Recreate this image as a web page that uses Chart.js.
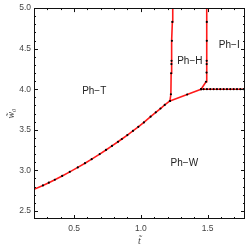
<!DOCTYPE html>
<html>
<head>
<meta charset="utf-8">
<script src="https://cdn.jsdelivr.net/npm/chart.js@4/dist/chart.umd.min.js"></script>
<style>
html,body{margin:0;padding:0;background:#fff;}
</style>
</head>
<body>
<canvas id="pdCanvas" width="249" height="251"></canvas>
<script>
// 軸の範囲と目盛ラベル
var xMin = 0.2, xMax = 1.78;
var yMin = 2.4, yMax = 5.0;
var xTickVals = [0.5, 1.0, 1.5];
var yTickVals = [2.5, 3.0, 3.5, 4.0, 4.5, 5.0];

// 相境界 Ph-T / Ph-W
var twX = [0.2,0.267,0.311,0.356,0.411,0.468,0.528,0.582,0.632,0.692,0.739,0.784,0.829,0.858,0.899,0.941,0.981,1.023,1.073,1.112,1.147,1.179,1.218];
var twY = [2.765,2.814,2.848,2.884,2.931,2.981,3.036,3.088,3.138,3.200,3.251,3.301,3.352,3.386,3.435,3.486,3.536,3.590,3.662,3.715,3.762,3.806,3.855];
// 相境界 Ph-H / Ph-W
var hwX = [1.218,1.347,1.451];
var hwY = [3.855,3.935,4.0];
// 相境界 Ph-T / Ph-H
var thX = [1.218,1.225,1.227,1.229,1.230,1.233,1.236,1.239];
var thY = [3.855,3.938,4.197,4.31,4.35,4.597,4.83,5.0];
// 相境界 Ph-H / Ph-I
var hiX = [1.451,1.488,1.492,1.493,1.493,1.494,1.494,1.495];
var hiY = [4.0,4.092,4.205,4.31,4.35,4.597,4.83,5.0];
// 相境界 Ph-I / Ph-W
var iwX = [1.451,1.47,1.495,1.52,1.545,1.57,1.595,1.62,1.645,1.67,1.695,1.72,1.745,1.77,1.78];
var iwY = [4.0,4.0,4.0,4.0,4.0,4.0,4.0,4.0,4.0,4.0,4.0,4.0,4.0,4.0,4.0];

// 領域ラベル
var regionNames = ["Ph\u2212T","Ph\u2212H","Ph\u2212I","Ph\u2212W"];
var regionX = [0.651,1.367,1.662,1.326];
var regionY = [3.971,4.35,4.536,3.087];

function zip(xs, ys){
	var arr = [];
	for(var i = 0; i<xs.length; i++){
		arr.push({x:xs[i], y:ys[i]});
	}
	return arr;
}

//枠上の点には黒点を付けない
function dotRadius(c){
	var p = c.raw;
	if(!p)return 1.1;
	if(p.x<=xMin || p.x>=xMax || p.y>=yMax)return 0;
	return 1.1;
}

function boundary(xs, ys){
	return {
		data: zip(xs, ys),
		showLine: true,
		borderColor: "#ff1a1a",
		borderWidth: 1.6,
		tension: 0,
		pointRadius: dotRadius,
		pointBackgroundColor: "#000",
		pointBorderWidth: 0,
		pointHoverRadius: 0
	};
}

//枠と内向きの目盛、領域ラベル
var framePlugin = {
	id: "frame",
	afterDraw: function(chart){
		var ctx = chart.ctx;
		var a = chart.chartArea;
		var sx = chart.scales.x, sy = chart.scales.y;
		ctx.save();
		ctx.strokeStyle = "#111";
		ctx.lineWidth = 1;
		ctx.strokeRect(Math.round(a.left)+0.5, Math.round(a.top)+0.5, Math.round(a.right-a.left)-1, Math.round(a.bottom-a.top)-1);
		ctx.beginPath();
		for(var i = 3; i<=17; i++){
			var px = Math.round(sx.getPixelForValue(i/10))+0.5;
			var len = (i%5===0) ? 4 : 2;
			ctx.moveTo(px, a.bottom); ctx.lineTo(px, a.bottom-len);
			ctx.moveTo(px, a.top); ctx.lineTo(px, a.top+len);
		}
		for(var j = 25; j<=49; j++){
			var py = Math.round(sy.getPixelForValue(j/10))+0.5;
			var len2 = (j%5===0) ? 4 : 2;
			ctx.moveTo(a.left, py); ctx.lineTo(a.left+len2, py);
			ctx.moveTo(a.right, py); ctx.lineTo(a.right-len2, py);
		}
		ctx.stroke();
		ctx.fillStyle = "#222";
		ctx.font = "10px 'Liberation Sans', Arial, sans-serif";
		ctx.textAlign = "center";
		ctx.textBaseline = "middle";
		for(var k = 0; k<regionNames.length; k++){
			ctx.fillText(regionNames[k], sx.getPixelForValue(regionX[k]), sy.getPixelForValue(regionY[k]));
		}
		ctx.restore();
	}
};

var can = document.getElementById("pdCanvas");
var myChart = new Chart(can.getContext("2d"), {
	type: "scatter",
	data: {
		datasets: [
			boundary(twX, twY),
			boundary(hwX, hwY),
			boundary(thX, thY),
			boundary(hiX, hiY),
			boundary(iwX, iwY)
		]
	},
	options: {
		responsive: false,
		animation: false,
		layout: {padding: {top: 5, right: 4, left: 0, bottom: 0}},
		plugins: {legend: {display: false}, tooltip: {enabled: false}},
		scales: {
			x: {
				type: "linear", min: xMin, max: xMax,
				afterBuildTicks: function(s){ s.ticks = xTickVals.map(function(v){return {value:v};}); },
				afterFit: function(s){ s.height = 32; },
				ticks: {
					autoSkip: false, maxRotation: 0, padding: 5,
					color: "#444",
					font: {size: 8.5, family: "'Liberation Sans', Arial, sans-serif"},
					callback: function(v){ return v.toFixed(1); }
				},
				grid: {display: false, drawTicks: false},
				border: {display: false},
				title: {
					display: true, text: "t\u0303",
					color: "#444",
					font: {size: 10, style: "italic", family: "'Liberation Serif', serif"},
					padding: {top: 0, bottom: 4}
				}
			},
			y: {
				type: "linear", min: yMin, max: yMax,
				afterBuildTicks: function(s){ s.ticks = yTickVals.map(function(v){return {value:v};}); },
				afterFit: function(s){ s.width = 34; },
				ticks: {
					autoSkip: false, padding: 3,
					color: "#444",
					font: {size: 8.5, family: "'Liberation Sans', Arial, sans-serif"},
					callback: function(v){ return v.toFixed(1); }
				},
				grid: {display: false, drawTicks: false},
				border: {display: false},
				title: {
					display: true, text: "w\u0303\u2080",
					color: "#444",
					font: {size: 10, style: "italic", family: "'Liberation Serif', serif"},
					padding: {top: 5, bottom: 0}
				}
			}
		}
	},
	plugins: [framePlugin]
});
</script>
</body>
</html>
